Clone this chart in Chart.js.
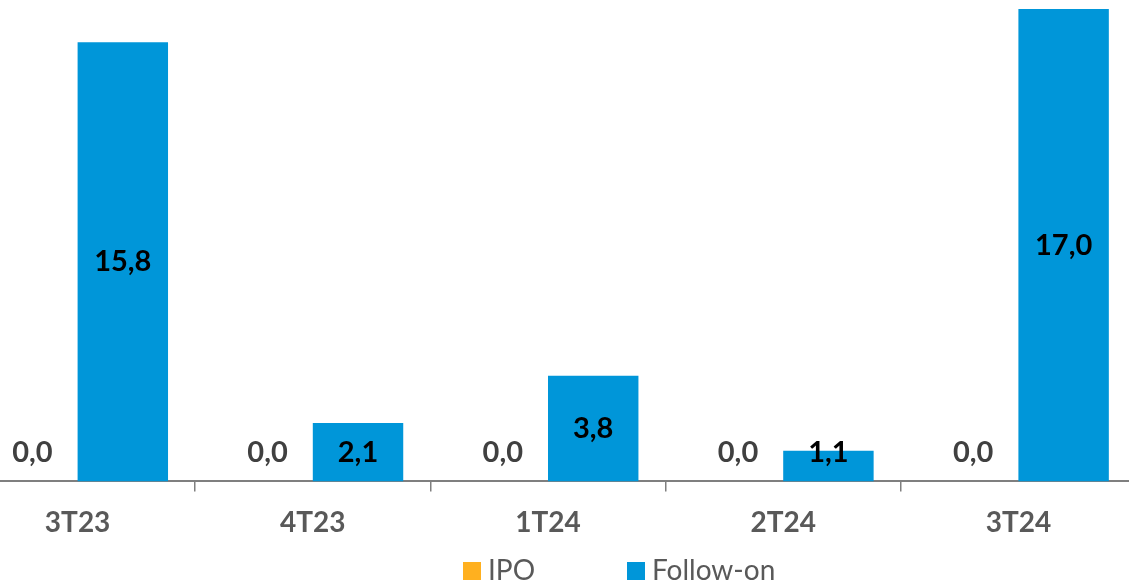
<!DOCTYPE html>
<html>
<head>
<meta charset="utf-8">
<script src="https://cdn.jsdelivr.net/npm/chart.js@4.4.1/dist/chart.umd.min.js"></script>
<style>
  html, body { margin: 0; padding: 0; background: #fff; overflow: hidden; }
  /* plot runs slightly past both page edges, so the wrapper is shifted left */
  #wrap { position: absolute; left: -40px; top: 0; width: 1176px; height: 581px; }
</style>
</head>
<body>
<div id="wrap"><canvas id="chart"></canvas></div>
<script>
const quarters = ['3T23', '4T23', '1T24', '2T24', '3T24'];
const ipo = [0, 0, 0, 0, 0];
const followOn = [15.8, 2.1, 3.8, 1.1, 17.0];
const seriesNames = ['IPO', 'Follow-on'];

const BLUE = '#0096d9';
const ORANGE = '#ffb01f';

// value labels: centred in the bar, but never lower than just above the axis
const valueLabels = {
  id: 'valueLabels',
  afterDatasetsDraw(chart) {
    const ctx = chart.ctx;
    ctx.save();
    ctx.font = 'bold 29px Lato';
    ctx.textAlign = 'center';
    ctx.textBaseline = 'middle';
    chart.data.datasets.forEach((ds, i) => {
      chart.getDatasetMeta(i).data.forEach((bar, j) => {
        const mid = (bar.y + bar.base) / 2;
        const y = Math.min(mid, bar.base - 29);
        ctx.fillStyle = ds.labelColor;
        ctx.fillText(ds.data[j].toFixed(1).replace('.', ','), bar.x, y);
      });
    });
    ctx.restore();
  }
};

// legend along the bottom edge
const bottomLegend = {
  id: 'bottomLegend',
  afterDraw(chart) {
    const ctx = chart.ctx;
    const y = chart.height - 10;
    let x = 503;
    ctx.save();
    ctx.font = '28px Lato';
    ctx.textBaseline = 'middle';
    chart.data.datasets.forEach(ds => {
      ctx.fillStyle = ds.backgroundColor;
      ctx.fillRect(x, y - 9, 18, 18);
      ctx.fillStyle = '#595959';
      ctx.fillText(ds.label, x + 25, y);
      x += 164;
    });
    ctx.restore();
  }
};

new Chart(document.getElementById('chart'), {
  type: 'bar',
  data: {
    labels: quarters,
    datasets: [
      { label: seriesNames[0], data: ipo, backgroundColor: ORANGE, labelColor: '#404040' },
      { label: seriesNames[1], data: followOn, backgroundColor: BLUE, labelColor: '#000000' }
    ]
  },
  options: {
    responsive: true,
    maintainAspectRatio: false,
    animation: false,
    layout: { padding: { left: 0, right: 0, top: 0, bottom: 26 } },
    datasets: {
      bar: { categoryPercentage: 0.769, barPercentage: 1.0, borderWidth: 0 }
    },
    plugins: {
      legend: { display: false },
      tooltip: { enabled: false }
    },
    scales: {
      x: {
        grid: {
          offset: true,
          drawOnChartArea: false,
          drawTicks: true,
          tickLength: 10,
          color: '#7f7f7f',
          lineWidth: 1.5
        },
        border: { display: true, color: '#7f7f7f', width: 2 },
        ticks: {
          color: '#595959',
          padding: 15,
          font: { family: 'Lato', size: 28, weight: 'bold' }
        }
      },
      y: {
        display: false,
        min: 0,
        max: 17.32
      }
    }
  },
  plugins: [valueLabels, bottomLegend]
});
</script>
</body>
</html>
